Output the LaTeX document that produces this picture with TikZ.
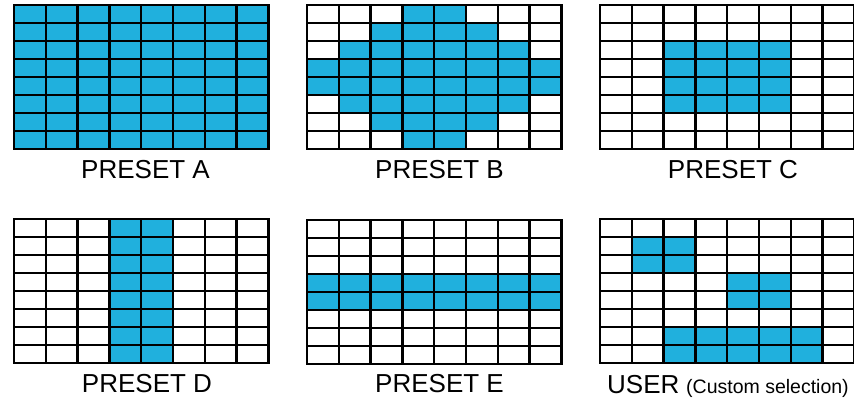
\documentclass[tikz,border=0pt]{standalone}
\usepackage{fontspec}
\setmainfont{Liberation Sans}
\definecolor{cellblue}{RGB}{32,176,221}
\tikzset{
  gridline/.style={line width=2.3pt, draw=black},
  outline/.style={line width=2.3pt, draw=black, line join=miter},
  lbl/.style={inner sep=0pt, font=\fontsize{26}{30}\selectfont},
  sublbl/.style={inner sep=0pt, font=\fontsize{19.5}{23}\selectfont},
}
\newcommand{\mygridlines}{%
  \foreach \i in {1,...,7} {\draw[gridline] (\i*31.8,0) -- (\i*31.8,144);}
  \foreach \j in {1,...,7} {\draw[gridline] (0,\j*18) -- (254.4,\j*18);}
  \draw[outline] (0,0) rectangle (254.4,144);
}
\begin{document}
\begin{tikzpicture}[x=1pt,y=-1pt]
\useasboundingbox (0,0) rectangle (854,398);
\begin{scope}
\clip (0,0) rectangle (854,398);
% PRESET A
\begin{scope}[shift={(14,5)}]
  \fill[cellblue] (0,0) rectangle (254.4,144);
  \mygridlines
\end{scope}
% PRESET B
\begin{scope}[shift={(307,5)}]
  \foreach \r/\a/\b in {0/3/4,1/2/5,2/1/6,3/0/7,4/0/7,5/1/6,6/2/5,7/3/4}
    {\fill[cellblue] (\a*31.8,\r*18) rectangle (\b*31.8+31.8,\r*18+18);}
  \mygridlines
\end{scope}
% PRESET C
\begin{scope}[shift={(600,5)}]
  \fill[cellblue] (2*31.8,2*18) rectangle (6*31.8,6*18);
  \mygridlines
\end{scope}
% PRESET D
\begin{scope}[shift={(14,219)}]
  \fill[cellblue] (3*31.8,0) rectangle (5*31.8,144);
  \mygridlines
\end{scope}
% PRESET E
\begin{scope}[shift={(307,220)}]
  \fill[cellblue] (0,3*18) rectangle (254.4,5*18);
  \mygridlines
\end{scope}
% USER
\begin{scope}[shift={(600,219)}]
  \fill[cellblue] (1*31.8,1*18) rectangle (3*31.8,3*18);
  \fill[cellblue] (4*31.8,3*18) rectangle (6*31.8,5*18);
  \fill[cellblue] (2*31.8,6*18) rectangle (7*31.8,8*18);
  \mygridlines
\end{scope}
\end{scope}
% labels
\node[lbl, anchor=base] (la) at (145.5,179) {PRESET A};
\node[lbl, anchor=base] (lb) at (439.5,179) {PRESET B};
\node[lbl, anchor=base] (lc) at (733,179) {PRESET C};
\node[lbl, anchor=base] (ld) at (147,392) {PRESET D};
\node[lbl, anchor=base] (le) at (439.5,392) {PRESET E};
\node[lbl, anchor=base west] (lu) at (607,393.5) {USER};
\node[sublbl, anchor=base west] (lus) at (686,393.5) {(Custom selection)};
\end{tikzpicture}
\end{document}
